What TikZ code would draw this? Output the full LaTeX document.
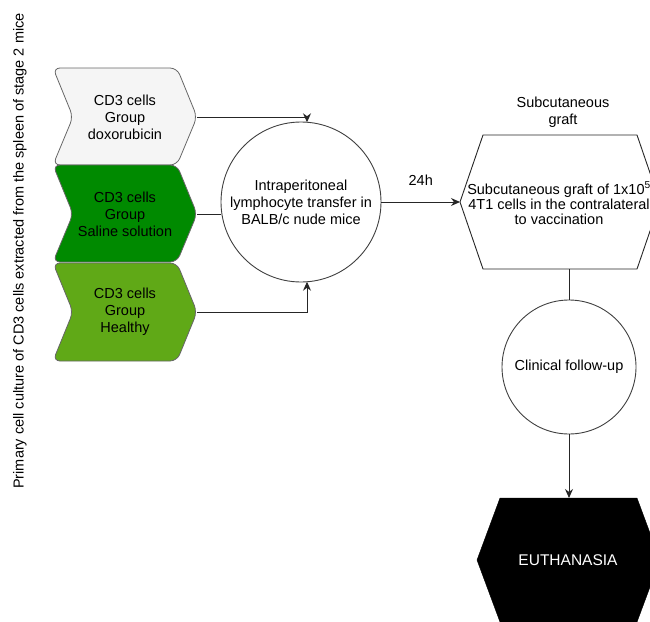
\documentclass[tikz,border=0pt]{standalone}
\usepackage{fontspec}
\setmainfont{Liberation Sans}
\usetikzlibrary{arrows.meta,calc}
\definecolor{chevgray}{HTML}{F5F5F5}
\definecolor{chevdark}{HTML}{008A00}
\definecolor{chevlight}{HTML}{60A917}
\definecolor{edgegray}{HTML}{666666}
\begin{document}
\begin{tikzpicture}[x=1pt,y=-1pt,
  txt/.style={font=\fontsize{14.5}{17}\selectfont, align=center, inner sep=0pt},
  chev/.style={draw=edgegray, line width=0.8pt, rounded corners=7pt},
  conn/.style={draw=black!85, line width=1pt},
  arr/.style={conn, -{Stealth[length=9pt,width=8pt]}},
  bigcirc/.style={circle, draw=black!75, line width=0.9pt, fill=white, inner sep=0pt}]
\useasboundingbox (0,0) rectangle (650,621);
\clip (0,0) rectangle (650,621);
% side label
\node[txt, rotate=90] (side) at (20,251) {Primary cell culture of CD3 cells extracted from the spleen of stage 2 mice};
% chevrons
\path[chev, fill=chevgray] (53,68) -- (177,68) -- (197,117) -- (177,165) -- (53,165) -- (73,117) -- cycle;
\node[txt] (g1) at (125,117) {CD3 cells\\Group\\doxorubicin};
\coordinate (g1tip) at (197,117);
\path[chev, fill=chevdark] (53,165) -- (177,165) -- (197,214) -- (177,262) -- (53,262) -- (73,214) -- cycle;
\node[txt] (g2) at (125,214) {CD3 cells\\Group\\Saline solution};
\coordinate (g2tip) at (197,214);
\path[chev, fill=chevlight] (53,263) -- (177,263) -- (197,312) -- (177,361) -- (53,361) -- (73,312) -- cycle;
\node[txt] (g3) at (125,312) {CD3 cells\\Group\\Healthy};
\coordinate (g3tip) at (197,312);
% transfer circle
\node[bigcirc, minimum size=160pt] (tr) at (301,202) {};
\node[txt] (trt) at (301,202) {Intraperitoneal\\lymphocyte transfer in\\BALB/c nude mice};
\coordinate (trtop) at (307,122.3);
\coordinate (trbot) at (307,281.7);
\draw[arr] (g1tip) -| (trtop);
\draw[arr] (g3tip) -| (trbot);
\draw[conn] (g2tip) -- (tr.west |- g2tip);
% graft hexagon
\path[draw=black!85, line width=0.9pt, fill=white] (483,135) -- (637,135) -- (660,202) -- (637,269) -- (483,269) -- (460,202) -- cycle;
\coordinate (hexw) at (460,202);
\coordinate (hexs) at (569,269);
\node[txt, font=\fontsize{14.5}{15}\selectfont] (hext) at (559,203) {Subcutaneous graft of 1x10\textsuperscript{5}\\4T1 cells in the contralateral\\to vaccination};
\node[txt] (hexlab) at (563,112) {Subcutaneous\\graft};
\draw[arr] (tr.east) -- node[txt, above=16pt] (lab24) {24h} (hexw);
% clinical follow-up
\node[bigcirc, minimum size=134pt] (cf) at (569,367) {};
\node[txt] (cft) at (569,367) {Clinical follow-up};
\draw[conn] (hexs) -- (cf.north);
% euthanasia
\path[draw=black, fill=black] (500,498) -- (637,498) -- (660,560) -- (637,622) -- (500,622) -- (477,560) -- cycle;
\coordinate (euthn) at (569,498);
\node[txt, text=white, font=\fontsize{15.5}{17}\selectfont] (eut) at (568,560) {EUTHANASIA};
\draw[arr] (cf.south) -- (euthn);
\end{tikzpicture}
\end{document}
